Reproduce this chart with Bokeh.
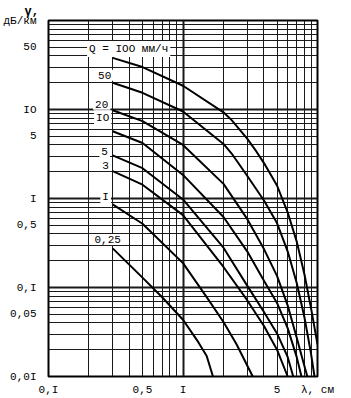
from bokeh.plotting import figure
from bokeh.models import FixedTicker, Grid, Label, Title
from bokeh.embed import file_html
from bokeh.resources import INLINE

# Attenuation in rain (dB/km) versus wavelength (cm)
# Rain rate Q, mm/h
lam_100 = [0.3, 0.5, 1, 2, 2.3, 3, 3.5, 4, 5, 6, 7, 8, 9, 10]
att_100 = [38, 30, 18.5, 9.3, 7.6, 4.7, 3.4, 2.5, 1.4, 0.70, 0.33, 0.14, 0.056, 0.023]

lam_50 = [0.3, 0.5, 1, 2, 2.3, 3, 4, 5, 6, 7, 8, 8.9, 9.5]
att_50 = [20, 15.4, 9.5, 4.1, 3.2, 1.8, 0.95, 0.53, 0.255, 0.113, 0.046, 0.019, 0.01]

lam_20 = [0.3, 0.5, 1, 2, 3, 4, 5, 6, 7, 8, 8.4]
att_20 = [9.8, 7.4, 4.0, 1.46, 0.59, 0.27, 0.135, 0.063, 0.0275, 0.013, 0.01]

lam_10 = [0.3, 0.5, 1, 2, 3, 4, 5, 6, 7, 7.6]
att_10 = [5.7, 4.2, 1.84, 0.62, 0.255, 0.119, 0.067, 0.035, 0.0166, 0.01]

lam_5 = [0.3, 0.5, 1, 2, 3, 4, 5, 6, 6.6]
att_5 = [3.05, 2.19, 0.975, 0.28, 0.105, 0.053, 0.0305, 0.0166, 0.01]

lam_3 = [0.3, 0.5, 1, 2, 3, 4, 5, 6]
att_3 = [2.03, 1.43, 0.65, 0.17, 0.072, 0.037, 0.02, 0.01]

lam_1 = [0.3, 0.5, 1, 1.5, 2, 2.5, 3.3]
att_1 = [0.86, 0.52, 0.188, 0.078, 0.041, 0.023, 0.01]

lam_025 = [0.3, 0.5, 0.7, 1, 1.3, 1.5, 1.67]
att_025 = [0.275, 0.129, 0.0776, 0.0434, 0.0243, 0.017, 0.01]

curve_labels = ["Q = IOO мм/ч", "50", "20", "IO", "5", "3", "I", "0,25"]
curves = [(lam_100, att_100), (lam_50, att_50), (lam_20, att_20), (lam_10, att_10),
          (lam_5, att_5), (lam_3, att_3), (lam_1, att_1), (lam_025, att_025)]
# label offsets (screen px) from each curve's starting point
label_offsets = [(16, 9), (-8, 7.5), (-11, 6), (-10, 13), (-8, 4), (-7, 6), (-7, 7), (-5, 9)]

# axis ends carry the units, as in the original
y_ticks = [0.01, 0.05, 0.1, 0.5, 1, 5, 10, 50, 100]
y_tick_labels = ["0,0I", "0,05", "0,I", "0,5", "I", "5", "IO", "50", "дБ/км"]
x_ticks = [0.1, 0.5, 1, 5, 10]
x_tick_labels = ["0,I", "0,5", "I", "5", "λ, см"]

x_minor = [0.2, 0.3, 0.4, 0.5, 0.6, 0.7, 0.8, 0.9, 2, 3, 4, 5, 6, 7, 8, 9]
x_major = [1]
y_minor = [m * d for d in (0.01, 0.1, 1, 10) for m in range(2, 10)]
y_major = [0.1, 1, 10]

FONT = "Liberation Mono"

p = figure(width=351, height=398, x_axis_type="log", y_axis_type="log",
           x_range=(0.1, 10), y_range=(0.01, 100),
           output_backend="svg", toolbar_location=None,
           min_border_left=47, min_border_right=34, min_border_top=20, min_border_bottom=20)
p.background_fill_color = "white"
p.border_fill_color = "white"
p.outline_line_color = "black"
p.outline_line_width = 2
p.xgrid.grid_line_color = None
p.ygrid.grid_line_color = None

for dim, ticks, w in [(0, x_minor, 1), (0, x_major, 2), (1, y_minor, 1), (1, y_major, 2)]:
    p.add_layout(Grid(dimension=dim, ticker=FixedTicker(ticks=ticks),
                      grid_line_color="#1a1a1a", grid_line_width=w))

for ax in (p.xaxis[0], p.yaxis[0]):
    ax.axis_line_color = None
    ax.major_tick_line_color = None
    ax.minor_tick_line_color = None
    ax.major_label_text_font = FONT
    ax.major_label_text_font_size = "11px"
    ax.major_label_text_color = "black"

p.xaxis.ticker = FixedTicker(ticks=x_ticks)
p.xaxis.major_label_overrides = {t: s for t, s in zip(x_ticks, x_tick_labels)}
p.xaxis.major_label_standoff = 1
p.yaxis.ticker = FixedTicker(ticks=y_ticks)
p.yaxis.major_label_overrides = {t: s for t, s in zip(y_ticks, y_tick_labels)}
p.yaxis.major_label_standoff = 6

for lam, att in curves:
    p.line(lam, att, line_color="black", line_width=2, line_join="round")

for (lam, att), txt, (dx, dy) in zip(curves, curve_labels, label_offsets):
    p.add_layout(Label(x=lam[0], y=att[0], text=txt, x_offset=dx, y_offset=dy,
                       text_align="center", text_baseline="middle",
                       text_font=FONT, text_font_size="11px", text_color="black",
                       background_fill_color="white", padding=2))

# y-axis quantity, top-left outside the frame
p.add_layout(Title(text="γ,", align="left", offset=-24, standoff=0,
                   vertical_align="top",
                   text_font=FONT, text_font_size="12px", text_font_style="bold",
                   text_line_height=0.8, text_color="black"), "above")

open("out.html", "w").write(file_html(p, INLINE))
